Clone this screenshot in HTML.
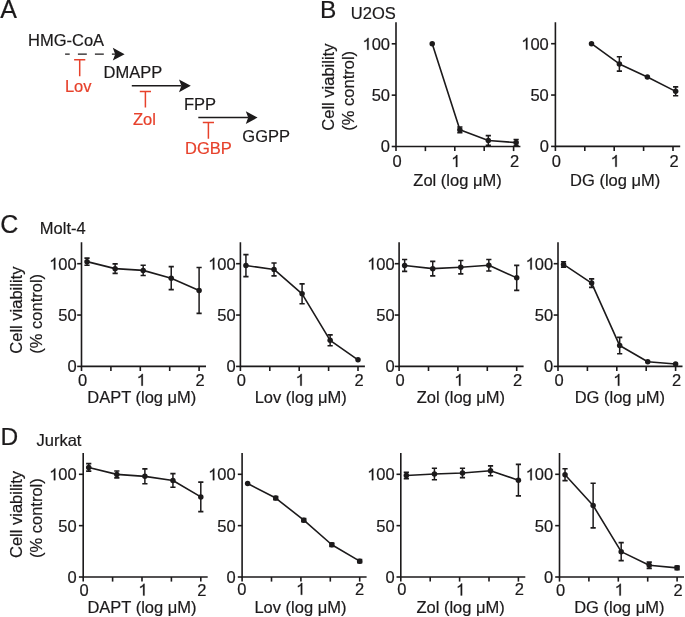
<!DOCTYPE html>
<html><head><meta charset="utf-8"><style>
html,body{margin:0;padding:0;background:#fff;width:685px;height:617px;overflow:hidden}
svg{display:block;will-change:transform}
text{font-family:"Liberation Sans",sans-serif;stroke-width:0.2px}
</style></head><body>
<svg width="685" height="617" viewBox="0 0 685 617">
<rect width="685" height="617" fill="#fff"/>
<text x="0.30" y="18.00" font-size="25" text-anchor="start" fill="#1c1a1b" stroke="#1c1a1b" >A</text>
<text x="28.00" y="45.80" font-size="16.5" text-anchor="start" fill="#1c1a1b" stroke="#1c1a1b" >HMG-CoA</text>
<text x="103.50" y="78.10" font-size="16.5" text-anchor="start" fill="#1c1a1b" stroke="#1c1a1b" >DMAPP</text>
<text x="184.00" y="109.90" font-size="16.5" text-anchor="start" fill="#1c1a1b" stroke="#1c1a1b" >FPP</text>
<text x="242.30" y="141.70" font-size="16.5" text-anchor="start" fill="#1c1a1b" stroke="#1c1a1b" >GGPP</text>
<path d="M65.10 54.20H115.20" stroke="#1c1a1b" stroke-width="1.3" stroke-dasharray="4.6 8.2 8.9 8.1 8.9 8.1 8.9 8.1" fill="none"/>
<path d="M124.60 54.20L112.80 47.80L115.20 54.20L112.80 60.60Z" fill="#1c1a1b"/>
<path d="M131.80 85.80H181.40" stroke="#1c1a1b" stroke-width="1.5" fill="none"/>
<path d="M190.80 85.80L179.00 79.40L181.40 85.80L179.00 92.20Z" fill="#1c1a1b"/>
<path d="M198.30 117.60H248.20" stroke="#1c1a1b" stroke-width="1.5" fill="none"/>
<path d="M257.60 117.60L245.80 111.20L248.20 117.60L245.80 124.00Z" fill="#1c1a1b"/>
<path d="M74.10 59.70H85.30M79.70 59.70V76.20" stroke="#e7412b" stroke-width="1.5" fill="none"/>
<text x="78.20" y="91.50" font-size="16.5" text-anchor="middle" fill="#e7412b" stroke="#e7412b" >Lov</text>
<path d="M139.80 91.40H151.00M145.40 91.40V107.50" stroke="#e7412b" stroke-width="1.5" fill="none"/>
<text x="144.50" y="125.10" font-size="16.5" text-anchor="middle" fill="#e7412b" stroke="#e7412b" >Zol</text>
<path d="M202.80 122.50H214.00M208.40 122.50V138.70" stroke="#e7412b" stroke-width="1.5" fill="none"/>
<text x="208.50" y="153.80" font-size="16.5" text-anchor="middle" fill="#e7412b" stroke="#e7412b" >DGBP</text>
<text x="320.00" y="17.80" font-size="24.5" text-anchor="start" fill="#1c1a1b" stroke="#1c1a1b" >B</text>
<text x="350.80" y="19.00" font-size="16.5" text-anchor="start" fill="#1c1a1b" stroke="#1c1a1b" >U2OS</text>
<text transform="translate(333.60 130.70) rotate(-90)" font-size="16.5" fill="#1c1a1b" stroke="#1c1a1b">Cell viability</text>
<text transform="translate(354.30 130.70) rotate(-90)" font-size="16.5" fill="#1c1a1b" stroke="#1c1a1b">(% control)</text>
<path d="M396.00 22.20V146.50H520.40" fill="none" stroke="#1c1a1b" stroke-width="1.6"/>
<path d="M391.70 146.50H396.00" stroke="#1c1a1b" stroke-width="1.6"/>
<text x="380.83" y="152.40" font-size="16.5" text-anchor="start" fill="#1c1a1b" stroke="#1c1a1b" >0</text>
<path d="M391.70 95.15H396.00" stroke="#1c1a1b" stroke-width="1.6"/>
<text x="371.65" y="101.05" font-size="16.5" text-anchor="start" fill="#1c1a1b" stroke="#1c1a1b" >50</text>
<path d="M391.70 43.80H396.00" stroke="#1c1a1b" stroke-width="1.6"/>
<path transform="translate(362.48 49.70) scale(0.01650 -0.01650)" d="M283 0H372V716H314Q290 660 225 610Q170 565 109 546V460Q160 478 205 504Q255 533 283 560Z" fill="#1c1a1b" stroke="#1c1a1b" stroke-width="16"/>
<text x="371.65" y="49.70" font-size="16.5" text-anchor="start" fill="#1c1a1b" stroke="#1c1a1b" >00</text>
<path d="M396.00 146.50V151.10" stroke="#1c1a1b" stroke-width="1.6"/>
<text x="392.41" y="166.90" font-size="16.5" text-anchor="start" fill="#1c1a1b" stroke="#1c1a1b" >0</text>
<path d="M425.40 146.50V151.10" stroke="#1c1a1b" stroke-width="1.6"/>
<path d="M454.80 146.50V151.10" stroke="#1c1a1b" stroke-width="1.6"/>
<path transform="translate(451.21 166.90) scale(0.01650 -0.01650)" d="M283 0H372V716H314Q290 660 225 610Q170 565 109 546V460Q160 478 205 504Q255 533 283 560Z" fill="#1c1a1b" stroke="#1c1a1b" stroke-width="16"/>
<path d="M484.20 146.50V151.10" stroke="#1c1a1b" stroke-width="1.6"/>
<path d="M513.60 146.50V151.10" stroke="#1c1a1b" stroke-width="1.6"/>
<text x="510.01" y="166.90" font-size="16.5" text-anchor="start" fill="#1c1a1b" stroke="#1c1a1b" >2</text>
<text x="457.50" y="185.60" font-size="16.5" text-anchor="middle" fill="#1c1a1b" stroke="#1c1a1b" >Zol (log μM)</text>
<path d="M432.22 43.80 L459.86 129.76 L488.32 140.44 L516.13 142.60" fill="none" stroke="#1c1a1b" stroke-width="1.6" stroke-linejoin="round"/>
<circle cx="432.22" cy="43.80" r="2.75" fill="#1c1a1b"/>
<path d="M459.86 126.99V132.53" stroke="#1c1a1b" stroke-width="1.5" fill="none"/>
<path d="M457.26 126.99H462.46M457.26 132.53H462.46" stroke="#1c1a1b" stroke-width="1.7" fill="none"/>
<circle cx="459.86" cy="129.76" r="2.75" fill="#1c1a1b"/>
<path d="M488.32 135.61V145.27" stroke="#1c1a1b" stroke-width="1.5" fill="none"/>
<path d="M485.72 135.61H490.92M485.72 145.27H490.92" stroke="#1c1a1b" stroke-width="1.7" fill="none"/>
<circle cx="488.32" cy="140.44" r="2.75" fill="#1c1a1b"/>
<path d="M516.13 139.52V145.68" stroke="#1c1a1b" stroke-width="1.5" fill="none"/>
<path d="M513.53 139.52H518.73M513.53 145.68H518.73" stroke="#1c1a1b" stroke-width="1.7" fill="none"/>
<circle cx="516.13" cy="142.60" r="2.75" fill="#1c1a1b"/>
<path d="M555.40 22.20V146.40H680.20" fill="none" stroke="#1c1a1b" stroke-width="1.6"/>
<path d="M551.10 146.40H555.40" stroke="#1c1a1b" stroke-width="1.6"/>
<text x="539.63" y="152.30" font-size="16.5" text-anchor="start" fill="#1c1a1b" stroke="#1c1a1b" >0</text>
<path d="M551.10 95.05H555.40" stroke="#1c1a1b" stroke-width="1.6"/>
<text x="530.45" y="100.95" font-size="16.5" text-anchor="start" fill="#1c1a1b" stroke="#1c1a1b" >50</text>
<path d="M551.10 43.70H555.40" stroke="#1c1a1b" stroke-width="1.6"/>
<path transform="translate(521.28 49.60) scale(0.01650 -0.01650)" d="M283 0H372V716H314Q290 660 225 610Q170 565 109 546V460Q160 478 205 504Q255 533 283 560Z" fill="#1c1a1b" stroke="#1c1a1b" stroke-width="16"/>
<text x="530.45" y="49.60" font-size="16.5" text-anchor="start" fill="#1c1a1b" stroke="#1c1a1b" >00</text>
<path d="M555.40 146.40V151.00" stroke="#1c1a1b" stroke-width="1.6"/>
<text x="551.81" y="166.80" font-size="16.5" text-anchor="start" fill="#1c1a1b" stroke="#1c1a1b" >0</text>
<path d="M584.80 146.40V151.00" stroke="#1c1a1b" stroke-width="1.6"/>
<path d="M614.20 146.40V151.00" stroke="#1c1a1b" stroke-width="1.6"/>
<path transform="translate(610.61 166.80) scale(0.01650 -0.01650)" d="M283 0H372V716H314Q290 660 225 610Q170 565 109 546V460Q160 478 205 504Q255 533 283 560Z" fill="#1c1a1b" stroke="#1c1a1b" stroke-width="16"/>
<path d="M643.60 146.40V151.00" stroke="#1c1a1b" stroke-width="1.6"/>
<path d="M673.00 146.40V151.00" stroke="#1c1a1b" stroke-width="1.6"/>
<text x="669.41" y="166.80" font-size="16.5" text-anchor="start" fill="#1c1a1b" stroke="#1c1a1b" >2</text>
<text x="615.20" y="185.50" font-size="16.5" text-anchor="middle" fill="#1c1a1b" stroke="#1c1a1b" >DG (log μM)</text>
<path d="M591.50 43.70 L619.37 63.93 L647.36 77.08 L675.65 91.35" fill="none" stroke="#1c1a1b" stroke-width="1.6" stroke-linejoin="round"/>
<circle cx="591.50" cy="43.70" r="2.75" fill="#1c1a1b"/>
<path d="M619.37 56.74V71.12" stroke="#1c1a1b" stroke-width="1.5" fill="none"/>
<path d="M616.77 56.74H621.97M616.77 71.12H621.97" stroke="#1c1a1b" stroke-width="1.7" fill="none"/>
<circle cx="619.37" cy="63.93" r="2.75" fill="#1c1a1b"/>
<circle cx="647.36" cy="77.08" r="2.75" fill="#1c1a1b"/>
<path d="M675.65 86.94V95.77" stroke="#1c1a1b" stroke-width="1.5" fill="none"/>
<path d="M673.05 86.94H678.25M673.05 95.77H678.25" stroke="#1c1a1b" stroke-width="1.7" fill="none"/>
<circle cx="675.65" cy="91.35" r="2.75" fill="#1c1a1b"/>
<text x="0.30" y="232.70" font-size="25" text-anchor="start" fill="#1c1a1b" stroke="#1c1a1b" >C</text>
<text x="39.80" y="233.60" font-size="16.5" text-anchor="start" fill="#1c1a1b" stroke="#1c1a1b" >Molt-4</text>
<text transform="translate(22.00 353.70) rotate(-90)" font-size="16.5" fill="#1c1a1b" stroke="#1c1a1b">Cell viability</text>
<text transform="translate(42.00 353.70) rotate(-90)" font-size="16.5" fill="#1c1a1b" stroke="#1c1a1b">(% control)</text>
<path d="M81.50 242.20V366.40H206.00" fill="none" stroke="#1c1a1b" stroke-width="1.6"/>
<path d="M77.20 366.40H81.50" stroke="#1c1a1b" stroke-width="1.6"/>
<text x="67.53" y="372.30" font-size="16.5" text-anchor="start" fill="#1c1a1b" stroke="#1c1a1b" >0</text>
<path d="M77.20 315.05H81.50" stroke="#1c1a1b" stroke-width="1.6"/>
<text x="58.35" y="320.95" font-size="16.5" text-anchor="start" fill="#1c1a1b" stroke="#1c1a1b" >50</text>
<path d="M77.20 263.70H81.50" stroke="#1c1a1b" stroke-width="1.6"/>
<path transform="translate(49.18 269.60) scale(0.01650 -0.01650)" d="M283 0H372V716H314Q290 660 225 610Q170 565 109 546V460Q160 478 205 504Q255 533 283 560Z" fill="#1c1a1b" stroke="#1c1a1b" stroke-width="16"/>
<text x="58.35" y="269.60" font-size="16.5" text-anchor="start" fill="#1c1a1b" stroke="#1c1a1b" >00</text>
<path d="M81.50 366.40V371.00" stroke="#1c1a1b" stroke-width="1.6"/>
<text x="77.91" y="385.70" font-size="16.5" text-anchor="start" fill="#1c1a1b" stroke="#1c1a1b" >0</text>
<path d="M110.90 366.40V371.00" stroke="#1c1a1b" stroke-width="1.6"/>
<path d="M140.30 366.40V371.00" stroke="#1c1a1b" stroke-width="1.6"/>
<path transform="translate(136.71 385.70) scale(0.01650 -0.01650)" d="M283 0H372V716H314Q290 660 225 610Q170 565 109 546V460Q160 478 205 504Q255 533 283 560Z" fill="#1c1a1b" stroke="#1c1a1b" stroke-width="16"/>
<path d="M169.70 366.40V371.00" stroke="#1c1a1b" stroke-width="1.6"/>
<path d="M199.10 366.40V371.00" stroke="#1c1a1b" stroke-width="1.6"/>
<text x="195.51" y="385.70" font-size="16.5" text-anchor="start" fill="#1c1a1b" stroke="#1c1a1b" >2</text>
<text x="141.80" y="402.80" font-size="16.5" text-anchor="middle" fill="#1c1a1b" stroke="#1c1a1b" >DAPT (log μM)</text>
<path d="M87.03 261.65 L115.13 268.63 L143.18 270.38 L171.23 278.18 L199.10 290.40" fill="none" stroke="#1c1a1b" stroke-width="1.6" stroke-linejoin="round"/>
<path d="M87.03 258.05V265.24" stroke="#1c1a1b" stroke-width="1.5" fill="none"/>
<path d="M84.43 258.05H89.63M84.43 265.24H89.63" stroke="#1c1a1b" stroke-width="1.7" fill="none"/>
<circle cx="87.03" cy="261.65" r="2.75" fill="#1c1a1b"/>
<path d="M115.13 263.80V273.46" stroke="#1c1a1b" stroke-width="1.5" fill="none"/>
<path d="M112.53 263.80H117.73M112.53 273.46H117.73" stroke="#1c1a1b" stroke-width="1.7" fill="none"/>
<circle cx="115.13" cy="268.63" r="2.75" fill="#1c1a1b"/>
<path d="M143.18 265.24V275.51" stroke="#1c1a1b" stroke-width="1.5" fill="none"/>
<path d="M140.58 265.24H145.78M140.58 275.51H145.78" stroke="#1c1a1b" stroke-width="1.7" fill="none"/>
<circle cx="143.18" cy="270.38" r="2.75" fill="#1c1a1b"/>
<path d="M171.23 266.68V289.68" stroke="#1c1a1b" stroke-width="1.5" fill="none"/>
<path d="M168.63 266.68H173.83M168.63 289.68H173.83" stroke="#1c1a1b" stroke-width="1.7" fill="none"/>
<circle cx="171.23" cy="278.18" r="2.75" fill="#1c1a1b"/>
<path d="M199.10 267.50V313.30" stroke="#1c1a1b" stroke-width="1.5" fill="none"/>
<path d="M196.50 267.50H201.70M196.50 313.30H201.70" stroke="#1c1a1b" stroke-width="1.7" fill="none"/>
<circle cx="199.10" cy="290.40" r="2.75" fill="#1c1a1b"/>
<path d="M240.40 242.20V366.40H364.90" fill="none" stroke="#1c1a1b" stroke-width="1.6"/>
<path d="M236.10 366.40H240.40" stroke="#1c1a1b" stroke-width="1.6"/>
<text x="226.53" y="372.30" font-size="16.5" text-anchor="start" fill="#1c1a1b" stroke="#1c1a1b" >0</text>
<path d="M236.10 315.05H240.40" stroke="#1c1a1b" stroke-width="1.6"/>
<text x="217.35" y="320.95" font-size="16.5" text-anchor="start" fill="#1c1a1b" stroke="#1c1a1b" >50</text>
<path d="M236.10 263.70H240.40" stroke="#1c1a1b" stroke-width="1.6"/>
<path transform="translate(208.18 269.60) scale(0.01650 -0.01650)" d="M283 0H372V716H314Q290 660 225 610Q170 565 109 546V460Q160 478 205 504Q255 533 283 560Z" fill="#1c1a1b" stroke="#1c1a1b" stroke-width="16"/>
<text x="217.35" y="269.60" font-size="16.5" text-anchor="start" fill="#1c1a1b" stroke="#1c1a1b" >00</text>
<path d="M240.40 366.40V371.00" stroke="#1c1a1b" stroke-width="1.6"/>
<text x="236.81" y="385.70" font-size="16.5" text-anchor="start" fill="#1c1a1b" stroke="#1c1a1b" >0</text>
<path d="M269.80 366.40V371.00" stroke="#1c1a1b" stroke-width="1.6"/>
<path d="M299.20 366.40V371.00" stroke="#1c1a1b" stroke-width="1.6"/>
<path transform="translate(295.61 385.70) scale(0.01650 -0.01650)" d="M283 0H372V716H314Q290 660 225 610Q170 565 109 546V460Q160 478 205 504Q255 533 283 560Z" fill="#1c1a1b" stroke="#1c1a1b" stroke-width="16"/>
<path d="M328.60 366.40V371.00" stroke="#1c1a1b" stroke-width="1.6"/>
<path d="M358.00 366.40V371.00" stroke="#1c1a1b" stroke-width="1.6"/>
<text x="354.41" y="385.70" font-size="16.5" text-anchor="start" fill="#1c1a1b" stroke="#1c1a1b" >2</text>
<text x="300.70" y="402.80" font-size="16.5" text-anchor="middle" fill="#1c1a1b" stroke="#1c1a1b" >Lov (log μM)</text>
<path d="M245.93 265.55 L274.03 269.45 L302.08 293.79 L330.13 340.31 L358.00 359.83" fill="none" stroke="#1c1a1b" stroke-width="1.6" stroke-linejoin="round"/>
<path d="M245.93 254.56V276.54" stroke="#1c1a1b" stroke-width="1.5" fill="none"/>
<path d="M243.33 254.56H248.53M243.33 276.54H248.53" stroke="#1c1a1b" stroke-width="1.7" fill="none"/>
<circle cx="245.93" cy="265.55" r="2.75" fill="#1c1a1b"/>
<path d="M274.03 262.98V275.92" stroke="#1c1a1b" stroke-width="1.5" fill="none"/>
<path d="M271.43 262.98H276.63M271.43 275.92H276.63" stroke="#1c1a1b" stroke-width="1.7" fill="none"/>
<circle cx="274.03" cy="269.45" r="2.75" fill="#1c1a1b"/>
<path d="M302.08 283.83V303.75" stroke="#1c1a1b" stroke-width="1.5" fill="none"/>
<path d="M299.48 283.83H304.68M299.48 303.75H304.68" stroke="#1c1a1b" stroke-width="1.7" fill="none"/>
<circle cx="302.08" cy="293.79" r="2.75" fill="#1c1a1b"/>
<path d="M330.13 334.87V345.76" stroke="#1c1a1b" stroke-width="1.5" fill="none"/>
<path d="M327.53 334.87H332.73M327.53 345.76H332.73" stroke="#1c1a1b" stroke-width="1.7" fill="none"/>
<circle cx="330.13" cy="340.31" r="2.75" fill="#1c1a1b"/>
<circle cx="358.00" cy="359.83" r="2.75" fill="#1c1a1b"/>
<path d="M399.10 242.20V366.40H523.60" fill="none" stroke="#1c1a1b" stroke-width="1.6"/>
<path d="M394.80 366.40H399.10" stroke="#1c1a1b" stroke-width="1.6"/>
<text x="385.53" y="372.30" font-size="16.5" text-anchor="start" fill="#1c1a1b" stroke="#1c1a1b" >0</text>
<path d="M394.80 315.05H399.10" stroke="#1c1a1b" stroke-width="1.6"/>
<text x="376.35" y="320.95" font-size="16.5" text-anchor="start" fill="#1c1a1b" stroke="#1c1a1b" >50</text>
<path d="M394.80 263.70H399.10" stroke="#1c1a1b" stroke-width="1.6"/>
<path transform="translate(367.18 269.60) scale(0.01650 -0.01650)" d="M283 0H372V716H314Q290 660 225 610Q170 565 109 546V460Q160 478 205 504Q255 533 283 560Z" fill="#1c1a1b" stroke="#1c1a1b" stroke-width="16"/>
<text x="376.35" y="269.60" font-size="16.5" text-anchor="start" fill="#1c1a1b" stroke="#1c1a1b" >00</text>
<path d="M399.10 366.40V371.00" stroke="#1c1a1b" stroke-width="1.6"/>
<text x="395.51" y="385.70" font-size="16.5" text-anchor="start" fill="#1c1a1b" stroke="#1c1a1b" >0</text>
<path d="M428.50 366.40V371.00" stroke="#1c1a1b" stroke-width="1.6"/>
<path d="M457.90 366.40V371.00" stroke="#1c1a1b" stroke-width="1.6"/>
<path transform="translate(454.31 385.70) scale(0.01650 -0.01650)" d="M283 0H372V716H314Q290 660 225 610Q170 565 109 546V460Q160 478 205 504Q255 533 283 560Z" fill="#1c1a1b" stroke="#1c1a1b" stroke-width="16"/>
<path d="M487.30 366.40V371.00" stroke="#1c1a1b" stroke-width="1.6"/>
<path d="M516.70 366.40V371.00" stroke="#1c1a1b" stroke-width="1.6"/>
<text x="513.11" y="385.70" font-size="16.5" text-anchor="start" fill="#1c1a1b" stroke="#1c1a1b" >2</text>
<text x="460.90" y="402.80" font-size="16.5" text-anchor="middle" fill="#1c1a1b" stroke="#1c1a1b" >Zol (log μM)</text>
<path d="M404.63 265.45 L432.73 268.63 L460.78 267.19 L488.83 265.24 L516.70 277.87" fill="none" stroke="#1c1a1b" stroke-width="1.6" stroke-linejoin="round"/>
<path d="M404.63 259.49V271.40" stroke="#1c1a1b" stroke-width="1.5" fill="none"/>
<path d="M402.03 259.49H407.23M402.03 271.40H407.23" stroke="#1c1a1b" stroke-width="1.7" fill="none"/>
<circle cx="404.63" cy="265.45" r="2.75" fill="#1c1a1b"/>
<path d="M432.73 261.34V275.92" stroke="#1c1a1b" stroke-width="1.5" fill="none"/>
<path d="M430.13 261.34H435.33M430.13 275.92H435.33" stroke="#1c1a1b" stroke-width="1.7" fill="none"/>
<circle cx="432.73" cy="268.63" r="2.75" fill="#1c1a1b"/>
<path d="M460.78 260.52V273.87" stroke="#1c1a1b" stroke-width="1.5" fill="none"/>
<path d="M458.18 260.52H463.38M458.18 273.87H463.38" stroke="#1c1a1b" stroke-width="1.7" fill="none"/>
<circle cx="460.78" cy="267.19" r="2.75" fill="#1c1a1b"/>
<path d="M488.83 259.49V270.99" stroke="#1c1a1b" stroke-width="1.5" fill="none"/>
<path d="M486.23 259.49H491.43M486.23 270.99H491.43" stroke="#1c1a1b" stroke-width="1.7" fill="none"/>
<circle cx="488.83" cy="265.24" r="2.75" fill="#1c1a1b"/>
<path d="M516.70 265.34V290.40" stroke="#1c1a1b" stroke-width="1.5" fill="none"/>
<path d="M514.10 265.34H519.30M514.10 290.40H519.30" stroke="#1c1a1b" stroke-width="1.7" fill="none"/>
<circle cx="516.70" cy="277.87" r="2.75" fill="#1c1a1b"/>
<path d="M558.00 242.20V366.40H682.50" fill="none" stroke="#1c1a1b" stroke-width="1.6"/>
<path d="M553.70 366.40H558.00" stroke="#1c1a1b" stroke-width="1.6"/>
<text x="544.03" y="372.30" font-size="16.5" text-anchor="start" fill="#1c1a1b" stroke="#1c1a1b" >0</text>
<path d="M553.70 315.05H558.00" stroke="#1c1a1b" stroke-width="1.6"/>
<text x="534.85" y="320.95" font-size="16.5" text-anchor="start" fill="#1c1a1b" stroke="#1c1a1b" >50</text>
<path d="M553.70 263.70H558.00" stroke="#1c1a1b" stroke-width="1.6"/>
<path transform="translate(525.68 269.60) scale(0.01650 -0.01650)" d="M283 0H372V716H314Q290 660 225 610Q170 565 109 546V460Q160 478 205 504Q255 533 283 560Z" fill="#1c1a1b" stroke="#1c1a1b" stroke-width="16"/>
<text x="534.85" y="269.60" font-size="16.5" text-anchor="start" fill="#1c1a1b" stroke="#1c1a1b" >00</text>
<path d="M558.00 366.40V371.00" stroke="#1c1a1b" stroke-width="1.6"/>
<text x="554.41" y="385.70" font-size="16.5" text-anchor="start" fill="#1c1a1b" stroke="#1c1a1b" >0</text>
<path d="M587.40 366.40V371.00" stroke="#1c1a1b" stroke-width="1.6"/>
<path d="M616.80 366.40V371.00" stroke="#1c1a1b" stroke-width="1.6"/>
<path transform="translate(613.21 385.70) scale(0.01650 -0.01650)" d="M283 0H372V716H314Q290 660 225 610Q170 565 109 546V460Q160 478 205 504Q255 533 283 560Z" fill="#1c1a1b" stroke="#1c1a1b" stroke-width="16"/>
<path d="M646.20 366.40V371.00" stroke="#1c1a1b" stroke-width="1.6"/>
<path d="M675.60 366.40V371.00" stroke="#1c1a1b" stroke-width="1.6"/>
<text x="672.01" y="385.70" font-size="16.5" text-anchor="start" fill="#1c1a1b" stroke="#1c1a1b" >2</text>
<text x="619.80" y="402.80" font-size="16.5" text-anchor="middle" fill="#1c1a1b" stroke="#1c1a1b" >DG (log μM)</text>
<path d="M563.53 264.42 L591.63 283.11 L619.68 345.55 L647.73 361.78 L675.60 364.04" fill="none" stroke="#1c1a1b" stroke-width="1.6" stroke-linejoin="round"/>
<path d="M563.53 261.75V267.09" stroke="#1c1a1b" stroke-width="1.5" fill="none"/>
<path d="M560.93 261.75H566.13M560.93 267.09H566.13" stroke="#1c1a1b" stroke-width="1.7" fill="none"/>
<circle cx="563.53" cy="264.42" r="2.75" fill="#1c1a1b"/>
<path d="M591.63 278.80V287.42" stroke="#1c1a1b" stroke-width="1.5" fill="none"/>
<path d="M589.03 278.80H594.23M589.03 287.42H594.23" stroke="#1c1a1b" stroke-width="1.7" fill="none"/>
<circle cx="591.63" cy="283.11" r="2.75" fill="#1c1a1b"/>
<path d="M619.68 337.34V353.77" stroke="#1c1a1b" stroke-width="1.5" fill="none"/>
<path d="M617.08 337.34H622.28M617.08 353.77H622.28" stroke="#1c1a1b" stroke-width="1.7" fill="none"/>
<circle cx="619.68" cy="345.55" r="2.75" fill="#1c1a1b"/>
<circle cx="647.73" cy="361.78" r="2.75" fill="#1c1a1b"/>
<circle cx="675.60" cy="364.04" r="2.75" fill="#1c1a1b"/>
<text x="0.50" y="444.90" font-size="24.5" text-anchor="start" fill="#1c1a1b" stroke="#1c1a1b" >D</text>
<text x="36.50" y="446.00" font-size="16.5" text-anchor="start" fill="#1c1a1b" stroke="#1c1a1b" >Jurkat</text>
<text transform="translate(22.00 558.00) rotate(-90)" font-size="16.5" fill="#1c1a1b" stroke="#1c1a1b">Cell viability</text>
<text transform="translate(42.00 558.00) rotate(-90)" font-size="16.5" fill="#1c1a1b" stroke="#1c1a1b">(% control)</text>
<path d="M83.20 453.10V577.00H207.70" fill="none" stroke="#1c1a1b" stroke-width="1.6"/>
<path d="M78.90 577.00H83.20" stroke="#1c1a1b" stroke-width="1.6"/>
<text x="67.53" y="582.90" font-size="16.5" text-anchor="start" fill="#1c1a1b" stroke="#1c1a1b" >0</text>
<path d="M78.90 525.65H83.20" stroke="#1c1a1b" stroke-width="1.6"/>
<text x="58.35" y="531.55" font-size="16.5" text-anchor="start" fill="#1c1a1b" stroke="#1c1a1b" >50</text>
<path d="M78.90 474.30H83.20" stroke="#1c1a1b" stroke-width="1.6"/>
<path transform="translate(49.18 480.20) scale(0.01650 -0.01650)" d="M283 0H372V716H314Q290 660 225 610Q170 565 109 546V460Q160 478 205 504Q255 533 283 560Z" fill="#1c1a1b" stroke="#1c1a1b" stroke-width="16"/>
<text x="58.35" y="480.20" font-size="16.5" text-anchor="start" fill="#1c1a1b" stroke="#1c1a1b" >00</text>
<path d="M83.20 577.00V581.60" stroke="#1c1a1b" stroke-width="1.6"/>
<text x="79.61" y="595.60" font-size="16.5" text-anchor="start" fill="#1c1a1b" stroke="#1c1a1b" >0</text>
<path d="M112.60 577.00V581.60" stroke="#1c1a1b" stroke-width="1.6"/>
<path d="M142.00 577.00V581.60" stroke="#1c1a1b" stroke-width="1.6"/>
<path transform="translate(138.41 595.60) scale(0.01650 -0.01650)" d="M283 0H372V716H314Q290 660 225 610Q170 565 109 546V460Q160 478 205 504Q255 533 283 560Z" fill="#1c1a1b" stroke="#1c1a1b" stroke-width="16"/>
<path d="M171.40 577.00V581.60" stroke="#1c1a1b" stroke-width="1.6"/>
<path d="M200.80 577.00V581.60" stroke="#1c1a1b" stroke-width="1.6"/>
<text x="197.21" y="595.60" font-size="16.5" text-anchor="start" fill="#1c1a1b" stroke="#1c1a1b" >2</text>
<text x="142.00" y="613.20" font-size="16.5" text-anchor="middle" fill="#1c1a1b" stroke="#1c1a1b" >DAPT (log μM)</text>
<path d="M88.73 467.42 L116.83 474.40 L144.88 476.35 L172.93 480.46 L200.80 496.89" fill="none" stroke="#1c1a1b" stroke-width="1.6" stroke-linejoin="round"/>
<path d="M88.73 463.72V471.12" stroke="#1c1a1b" stroke-width="1.5" fill="none"/>
<path d="M86.13 463.72H91.33M86.13 471.12H91.33" stroke="#1c1a1b" stroke-width="1.7" fill="none"/>
<circle cx="88.73" cy="467.42" r="2.75" fill="#1c1a1b"/>
<path d="M116.83 471.01V477.79" stroke="#1c1a1b" stroke-width="1.5" fill="none"/>
<path d="M114.23 471.01H119.43M114.23 477.79H119.43" stroke="#1c1a1b" stroke-width="1.7" fill="none"/>
<circle cx="116.83" cy="474.40" r="2.75" fill="#1c1a1b"/>
<path d="M144.88 468.96V483.75" stroke="#1c1a1b" stroke-width="1.5" fill="none"/>
<path d="M142.28 468.96H147.48M142.28 483.75H147.48" stroke="#1c1a1b" stroke-width="1.7" fill="none"/>
<circle cx="144.88" cy="476.35" r="2.75" fill="#1c1a1b"/>
<path d="M172.93 473.68V487.24" stroke="#1c1a1b" stroke-width="1.5" fill="none"/>
<path d="M170.33 473.68H175.53M170.33 487.24H175.53" stroke="#1c1a1b" stroke-width="1.7" fill="none"/>
<circle cx="172.93" cy="480.46" r="2.75" fill="#1c1a1b"/>
<path d="M200.80 482.21V511.58" stroke="#1c1a1b" stroke-width="1.5" fill="none"/>
<path d="M198.20 482.21H203.40M198.20 511.58H203.40" stroke="#1c1a1b" stroke-width="1.7" fill="none"/>
<circle cx="200.80" cy="496.89" r="2.75" fill="#1c1a1b"/>
<path d="M242.10 453.10V577.00H366.60" fill="none" stroke="#1c1a1b" stroke-width="1.6"/>
<path d="M237.80 577.00H242.10" stroke="#1c1a1b" stroke-width="1.6"/>
<text x="226.53" y="582.90" font-size="16.5" text-anchor="start" fill="#1c1a1b" stroke="#1c1a1b" >0</text>
<path d="M237.80 525.65H242.10" stroke="#1c1a1b" stroke-width="1.6"/>
<text x="217.35" y="531.55" font-size="16.5" text-anchor="start" fill="#1c1a1b" stroke="#1c1a1b" >50</text>
<path d="M237.80 474.30H242.10" stroke="#1c1a1b" stroke-width="1.6"/>
<path transform="translate(208.18 480.20) scale(0.01650 -0.01650)" d="M283 0H372V716H314Q290 660 225 610Q170 565 109 546V460Q160 478 205 504Q255 533 283 560Z" fill="#1c1a1b" stroke="#1c1a1b" stroke-width="16"/>
<text x="217.35" y="480.20" font-size="16.5" text-anchor="start" fill="#1c1a1b" stroke="#1c1a1b" >00</text>
<path d="M242.10 577.00V581.60" stroke="#1c1a1b" stroke-width="1.6"/>
<text x="237.31" y="594.80" font-size="16.5" text-anchor="start" fill="#1c1a1b" stroke="#1c1a1b" >0</text>
<path d="M271.50 577.00V581.60" stroke="#1c1a1b" stroke-width="1.6"/>
<path d="M300.90 577.00V581.60" stroke="#1c1a1b" stroke-width="1.6"/>
<path transform="translate(296.11 594.80) scale(0.01650 -0.01650)" d="M283 0H372V716H314Q290 660 225 610Q170 565 109 546V460Q160 478 205 504Q255 533 283 560Z" fill="#1c1a1b" stroke="#1c1a1b" stroke-width="16"/>
<path d="M330.30 577.00V581.60" stroke="#1c1a1b" stroke-width="1.6"/>
<path d="M359.70 577.00V581.60" stroke="#1c1a1b" stroke-width="1.6"/>
<text x="354.91" y="594.80" font-size="16.5" text-anchor="start" fill="#1c1a1b" stroke="#1c1a1b" >2</text>
<text x="300.40" y="613.20" font-size="16.5" text-anchor="middle" fill="#1c1a1b" stroke="#1c1a1b" >Lov (log μM)</text>
<path d="M247.63 483.54 L275.73 498.02 L303.78 520.21 L331.83 544.75 L359.70 561.18" fill="none" stroke="#1c1a1b" stroke-width="1.6" stroke-linejoin="round"/>
<circle cx="247.63" cy="483.54" r="2.75" fill="#1c1a1b"/>
<path d="M275.73 496.48V499.56" stroke="#1c1a1b" stroke-width="1.5" fill="none"/>
<path d="M273.13 496.48H278.33M273.13 499.56H278.33" stroke="#1c1a1b" stroke-width="1.7" fill="none"/>
<circle cx="275.73" cy="498.02" r="2.75" fill="#1c1a1b"/>
<path d="M303.78 518.67V521.75" stroke="#1c1a1b" stroke-width="1.5" fill="none"/>
<path d="M301.18 518.67H306.38M301.18 521.75H306.38" stroke="#1c1a1b" stroke-width="1.7" fill="none"/>
<circle cx="303.78" cy="520.21" r="2.75" fill="#1c1a1b"/>
<path d="M331.83 543.21V546.29" stroke="#1c1a1b" stroke-width="1.5" fill="none"/>
<path d="M329.23 543.21H334.43M329.23 546.29H334.43" stroke="#1c1a1b" stroke-width="1.7" fill="none"/>
<circle cx="331.83" cy="544.75" r="2.75" fill="#1c1a1b"/>
<path d="M359.70 559.64V562.72" stroke="#1c1a1b" stroke-width="1.5" fill="none"/>
<path d="M357.10 559.64H362.30M357.10 562.72H362.30" stroke="#1c1a1b" stroke-width="1.7" fill="none"/>
<circle cx="359.70" cy="561.18" r="2.75" fill="#1c1a1b"/>
<path d="M400.80 453.10V577.00H525.30" fill="none" stroke="#1c1a1b" stroke-width="1.6"/>
<path d="M396.50 577.00H400.80" stroke="#1c1a1b" stroke-width="1.6"/>
<text x="385.53" y="582.90" font-size="16.5" text-anchor="start" fill="#1c1a1b" stroke="#1c1a1b" >0</text>
<path d="M396.50 525.65H400.80" stroke="#1c1a1b" stroke-width="1.6"/>
<text x="376.35" y="531.55" font-size="16.5" text-anchor="start" fill="#1c1a1b" stroke="#1c1a1b" >50</text>
<path d="M396.50 474.30H400.80" stroke="#1c1a1b" stroke-width="1.6"/>
<path transform="translate(367.18 480.20) scale(0.01650 -0.01650)" d="M283 0H372V716H314Q290 660 225 610Q170 565 109 546V460Q160 478 205 504Q255 533 283 560Z" fill="#1c1a1b" stroke="#1c1a1b" stroke-width="16"/>
<text x="376.35" y="480.20" font-size="16.5" text-anchor="start" fill="#1c1a1b" stroke="#1c1a1b" >00</text>
<path d="M400.80 577.00V581.60" stroke="#1c1a1b" stroke-width="1.6"/>
<text x="397.21" y="595.40" font-size="16.5" text-anchor="start" fill="#1c1a1b" stroke="#1c1a1b" >0</text>
<path d="M430.20 577.00V581.60" stroke="#1c1a1b" stroke-width="1.6"/>
<path d="M459.60 577.00V581.60" stroke="#1c1a1b" stroke-width="1.6"/>
<path transform="translate(456.01 595.40) scale(0.01650 -0.01650)" d="M283 0H372V716H314Q290 660 225 610Q170 565 109 546V460Q160 478 205 504Q255 533 283 560Z" fill="#1c1a1b" stroke="#1c1a1b" stroke-width="16"/>
<path d="M489.00 577.00V581.60" stroke="#1c1a1b" stroke-width="1.6"/>
<path d="M518.40 577.00V581.60" stroke="#1c1a1b" stroke-width="1.6"/>
<text x="514.81" y="595.40" font-size="16.5" text-anchor="start" fill="#1c1a1b" stroke="#1c1a1b" >2</text>
<text x="460.60" y="613.20" font-size="16.5" text-anchor="middle" fill="#1c1a1b" stroke="#1c1a1b" >Zol (log μM)</text>
<path d="M406.33 475.53 L434.43 473.99 L462.48 472.96 L490.53 470.81 L518.40 480.15" fill="none" stroke="#1c1a1b" stroke-width="1.6" stroke-linejoin="round"/>
<path d="M406.33 472.45V478.61" stroke="#1c1a1b" stroke-width="1.5" fill="none"/>
<path d="M403.73 472.45H408.93M403.73 478.61H408.93" stroke="#1c1a1b" stroke-width="1.7" fill="none"/>
<circle cx="406.33" cy="475.53" r="2.75" fill="#1c1a1b"/>
<path d="M434.43 468.24V479.74" stroke="#1c1a1b" stroke-width="1.5" fill="none"/>
<path d="M431.83 468.24H437.03M431.83 479.74H437.03" stroke="#1c1a1b" stroke-width="1.7" fill="none"/>
<circle cx="434.43" cy="473.99" r="2.75" fill="#1c1a1b"/>
<path d="M462.48 468.24V477.69" stroke="#1c1a1b" stroke-width="1.5" fill="none"/>
<path d="M459.88 468.24H465.08M459.88 477.69H465.08" stroke="#1c1a1b" stroke-width="1.7" fill="none"/>
<circle cx="462.48" cy="472.96" r="2.75" fill="#1c1a1b"/>
<path d="M490.53 465.88V475.74" stroke="#1c1a1b" stroke-width="1.5" fill="none"/>
<path d="M487.93 465.88H493.13M487.93 475.74H493.13" stroke="#1c1a1b" stroke-width="1.7" fill="none"/>
<circle cx="490.53" cy="470.81" r="2.75" fill="#1c1a1b"/>
<path d="M518.40 464.34V495.97" stroke="#1c1a1b" stroke-width="1.5" fill="none"/>
<path d="M515.80 464.34H521.00M515.80 495.97H521.00" stroke="#1c1a1b" stroke-width="1.7" fill="none"/>
<circle cx="518.40" cy="480.15" r="2.75" fill="#1c1a1b"/>
<path d="M559.50 453.10V577.00H684.00" fill="none" stroke="#1c1a1b" stroke-width="1.6"/>
<path d="M555.20 577.00H559.50" stroke="#1c1a1b" stroke-width="1.6"/>
<text x="544.03" y="582.90" font-size="16.5" text-anchor="start" fill="#1c1a1b" stroke="#1c1a1b" >0</text>
<path d="M555.20 525.65H559.50" stroke="#1c1a1b" stroke-width="1.6"/>
<text x="534.85" y="531.55" font-size="16.5" text-anchor="start" fill="#1c1a1b" stroke="#1c1a1b" >50</text>
<path d="M555.20 474.30H559.50" stroke="#1c1a1b" stroke-width="1.6"/>
<path transform="translate(525.68 480.20) scale(0.01650 -0.01650)" d="M283 0H372V716H314Q290 660 225 610Q170 565 109 546V460Q160 478 205 504Q255 533 283 560Z" fill="#1c1a1b" stroke="#1c1a1b" stroke-width="16"/>
<text x="534.85" y="480.20" font-size="16.5" text-anchor="start" fill="#1c1a1b" stroke="#1c1a1b" >00</text>
<path d="M559.50 577.00V581.60" stroke="#1c1a1b" stroke-width="1.6"/>
<text x="555.91" y="595.60" font-size="16.5" text-anchor="start" fill="#1c1a1b" stroke="#1c1a1b" >0</text>
<path d="M588.90 577.00V581.60" stroke="#1c1a1b" stroke-width="1.6"/>
<path d="M618.30 577.00V581.60" stroke="#1c1a1b" stroke-width="1.6"/>
<path transform="translate(614.71 595.60) scale(0.01650 -0.01650)" d="M283 0H372V716H314Q290 660 225 610Q170 565 109 546V460Q160 478 205 504Q255 533 283 560Z" fill="#1c1a1b" stroke="#1c1a1b" stroke-width="16"/>
<path d="M647.70 577.00V581.60" stroke="#1c1a1b" stroke-width="1.6"/>
<path d="M677.10 577.00V581.60" stroke="#1c1a1b" stroke-width="1.6"/>
<text x="673.51" y="595.60" font-size="16.5" text-anchor="start" fill="#1c1a1b" stroke="#1c1a1b" >2</text>
<text x="619.30" y="613.20" font-size="16.5" text-anchor="middle" fill="#1c1a1b" stroke="#1c1a1b" >DG (log μM)</text>
<path d="M565.03 474.71 L593.13 505.52 L621.18 551.63 L649.23 565.29 L677.10 567.86" fill="none" stroke="#1c1a1b" stroke-width="1.6" stroke-linejoin="round"/>
<path d="M565.03 468.75V480.67" stroke="#1c1a1b" stroke-width="1.5" fill="none"/>
<path d="M562.43 468.75H567.63M562.43 480.67H567.63" stroke="#1c1a1b" stroke-width="1.7" fill="none"/>
<circle cx="565.03" cy="474.71" r="2.75" fill="#1c1a1b"/>
<path d="M593.13 483.23V527.81" stroke="#1c1a1b" stroke-width="1.5" fill="none"/>
<path d="M590.53 483.23H595.73M590.53 527.81H595.73" stroke="#1c1a1b" stroke-width="1.7" fill="none"/>
<circle cx="593.13" cy="505.52" r="2.75" fill="#1c1a1b"/>
<path d="M621.18 542.70V560.57" stroke="#1c1a1b" stroke-width="1.5" fill="none"/>
<path d="M618.58 542.70H623.78M618.58 560.57H623.78" stroke="#1c1a1b" stroke-width="1.7" fill="none"/>
<circle cx="621.18" cy="551.63" r="2.75" fill="#1c1a1b"/>
<path d="M649.23 562.21V568.37" stroke="#1c1a1b" stroke-width="1.5" fill="none"/>
<path d="M646.63 562.21H651.83M646.63 568.37H651.83" stroke="#1c1a1b" stroke-width="1.7" fill="none"/>
<circle cx="649.23" cy="565.29" r="2.75" fill="#1c1a1b"/>
<path d="M677.10 566.11V569.61" stroke="#1c1a1b" stroke-width="1.5" fill="none"/>
<path d="M674.50 566.11H679.70M674.50 569.61H679.70" stroke="#1c1a1b" stroke-width="1.7" fill="none"/>
<circle cx="677.10" cy="567.86" r="2.75" fill="#1c1a1b"/>
</svg>
</body></html>
